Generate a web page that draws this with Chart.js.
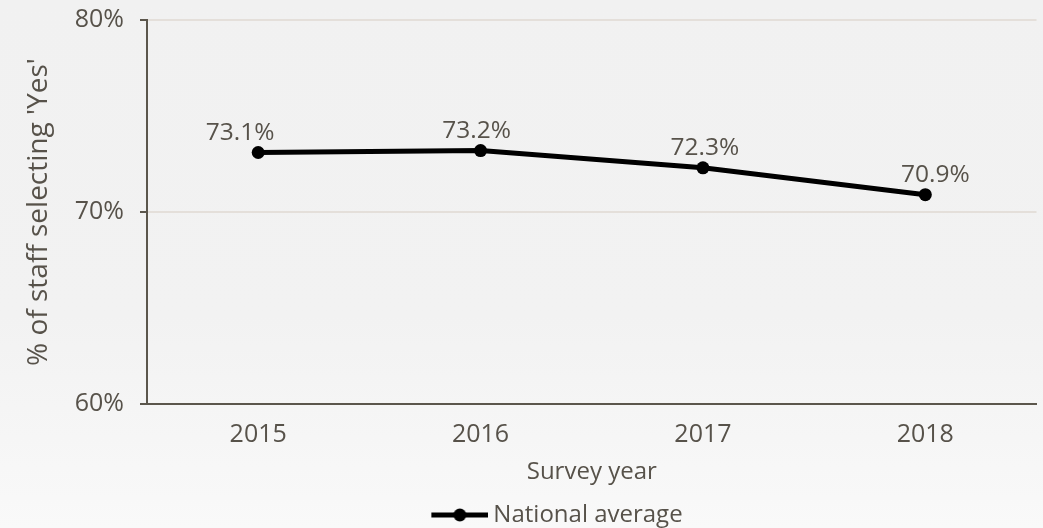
<!DOCTYPE html>
<html>
<head>
<meta charset="utf-8">
<script src="https://cdn.jsdelivr.net/npm/chart.js@4.4.1/dist/chart.umd.min.js"></script>
<style>
  html, body { margin: 0; padding: 0; }
  body { width: 1043px; height: 528px; background: linear-gradient(to bottom, #f1f1f1 0%, #f2f2f2 60%, #f9f9f9 100%); overflow: hidden; }
  #wrap { position: relative; width: 1043px; height: 528px; }
</style>
</head>
<body>
<div id="wrap"><canvas id="c" width="1043" height="528"></canvas></div>
<script>
// ---- Data ----
const categories = ['2015', '2016', '2017', '2018'];
const nationalAverage = [73.1, 73.2, 72.3, 70.9];
const seriesName = 'National average';
const yTicks = [60, 70, 80];
const xTitle = 'Survey year';
const yTitle = "% of staff selecting 'Yes'";

// ---- Style ----
const TEXT = '#57524a';
const AXIS = '#5b564c';
const GRID = '#e4dfda';
const FONT = "'Open Sans', 'Noto Sans', sans-serif";
const LABEL_NUDGE_X = [-18, -4, 2, 10];   // horizontal nudges of the value labels, as placed in the original

// legend symbol: line with a dot (transparent lead-in keeps the item centred like the original)
const LEAD = 82;
const sym = document.createElement('canvas');
sym.width = LEAD + 57; sym.height = 16;
(function () {
  const g = sym.getContext('2d');
  g.strokeStyle = '#000'; g.lineWidth = 5; g.lineCap = 'butt';
  g.beginPath(); g.moveTo(LEAD, 8); g.lineTo(LEAD + 57, 8); g.stroke();
  g.fillStyle = '#000';
  g.beginPath(); g.arc(LEAD + 28.5, 8, 6.5, 0, Math.PI * 2); g.fill();
})();

const dataLabels = {
  id: 'dataLabels',
  afterDatasetsDraw(chart) {
    const ctx = chart.ctx;
    const meta = chart.getDatasetMeta(0);
    ctx.save();
    ctx.fillStyle = TEXT;
    ctx.font = '24.5px ' + FONT;
    ctx.textAlign = 'center';
    ctx.textBaseline = 'alphabetic';
    meta.data.forEach((pt, i) => {
      ctx.fillText(nationalAverage[i].toFixed(1) + '%', pt.x + (LABEL_NUDGE_X[i] || 0), pt.y - 12.5);
    });
    ctx.restore();
  }
};

new Chart(document.getElementById('c'), {
  type: 'line',
  data: {
    labels: categories,
    datasets: [{
      label: seriesName,
      data: nationalAverage,
      borderColor: '#000',
      backgroundColor: '#000',
      borderWidth: 5,
      pointRadius: 6.5,
      pointHoverRadius: 6.5,
      pointBackgroundColor: '#000',
      pointBorderWidth: 0,
      tension: 0,
      pointStyle: 'circle'
    }]
  },
  options: {
    responsive: false,
    animation: false,
    devicePixelRatio: 1,
    layout: { padding: { top: 20, right: 4, left: 0, bottom: -9 } },
    plugins: {
      legend: {
        position: 'bottom',
        labels: {
          usePointStyle: true,
          pointStyleWidth: LEAD + 43,
          color: TEXT,
          font: { family: FONT, size: 24 },
          padding: 1,
          generateLabels: (chart) => [{
            text: seriesName,
            pointStyle: sym,
            fillStyle: '#000',
            strokeStyle: '#000',
            lineWidth: 0,
            hidden: false,
            datasetIndex: 0,
            fontColor: TEXT
          }]
        }
      },
      tooltip: { enabled: false }
    },
    scales: {
      x: {
        offset: true,
        grid: { display: true, color: 'rgba(0,0,0,0)', drawTicks: false, offset: true },
        border: { display: true, color: AXIS, width: 2 },
        ticks: { color: TEXT, font: { family: FONT, size: 25 }, padding: 16 },
        title: { display: true, text: xTitle, color: TEXT, font: { family: FONT, size: 24 }, padding: { top: 2, bottom: 15.5 } },
        afterFit: (s) => { s.height = 98; s.paddingLeft = 0; s.paddingRight = 0; }
      },
      y: {
        min: 60, max: 80,
        afterBuildTicks: (s) => { s.ticks = yTicks.map(v => ({ value: v })); },
        grid: { color: GRID, lineWidth: 2, tickLength: 7, tickColor: AXIS, tickWidth: 2 },
        border: { display: true, color: AXIS, width: 2 },
        ticks: { color: TEXT, font: { family: FONT, size: 25 }, padding: 16, callback: (v) => v + '%' },
        title: { display: true, text: yTitle, color: TEXT, font: { family: FONT, size: 28 }, padding: { top: 22, bottom: 0 } },
        afterFit: (s) => { s.width = 147; s.paddingTop = 0; s.paddingBottom = 0; }
      }
    }
  },
  plugins: [dataLabels]
});
</script>
</body>
</html>
